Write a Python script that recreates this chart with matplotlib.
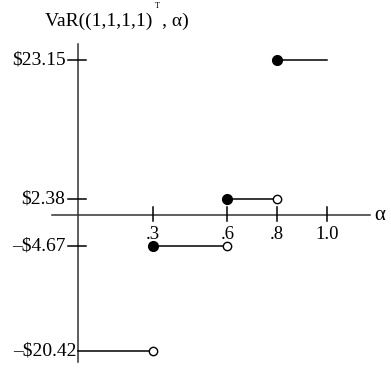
import matplotlib.pyplot as plt

plt.rcParams['font.family'] = ['Liberation Serif', 'DejaVu Serif']

# ступенчатая функция VaR(alpha)
alpha_start = [0.0, 0.3, 0.6, 0.8]
alpha_end = [0.3, 0.6, 0.8, 1.0]
var_values = [-20.42, -4.67, 2.38, 23.15]
filled_start = [False, True, True, True]
open_end = [True, True, True, False]

x_ticks = [0.3, 0.6, 0.8, 1.0]
x_labels = ['.3', '.6', '.8', '1.0']
y_ticks = [23.15, 2.38, -4.67]
y_labels = ['$23.15', '$2.38', '\u2013$4.67']
y_low = -20.42
y_low_label = '\u2013$20.42'

fig = plt.figure(figsize=(3.91, 3.70), dpi=100)
ax = fig.add_axes([0, 0, 1, 1])
ax.axis('off')
ax.set_xlim(-0.313, 1.257)
ax.set_ylim(-23.2, 32.2)

# оси
ax.plot([-0.104, 1.173], [0, 0], color='#333333', lw=1.1)
ax.plot([0, 0], [-22.0, 25.6], color='#333333', lw=1.1)

# деления по x
for xt, lab in zip(x_ticks, x_labels):
    ax.plot([xt, xt], [-0.9, 1.2], color='black', lw=1.1)
    ax.text(xt, -1.6, lab, ha='center', va='top', fontsize=13.5)

# деления по y
for yt, lab in zip(y_ticks, y_labels):
    ax.plot([-0.04, 0.032], [yt, yt], color='black', lw=1.1)
    ax.text(-0.05, yt, lab, ha='right', va='center', fontsize=14)
# нижняя подпись прижата к оси, без деления
ax.text(-0.004, y_low, y_low_label, ha='right', va='center', fontsize=14)

# ступеньки
for a0, a1, v, fs, oe in zip(alpha_start, alpha_end, var_values, filled_start, open_end):
    ax.plot([a0, a1], [v, v], color='black', lw=1.1)
    if fs:
        ax.plot(a0, v, 'o', color='black', ms=7, zorder=3)
    if oe:
        ax.plot(a1, v, 'o', mfc='white', mec='black', mew=1, ms=6, zorder=3)

ax.text(1.19, 0, '\u03b1', ha='left', va='center', fontsize=15)

fig.text(45 / 391, 1 - 21 / 370, 'VaR((1,1,1,1)  , \u03b1)', ha='left', va='center', fontsize=14)
fig.text(157 / 391, 1 - 6 / 370, 'T', ha='center', va='center', fontsize=6)

fig.savefig('out.png', dpi=100)
